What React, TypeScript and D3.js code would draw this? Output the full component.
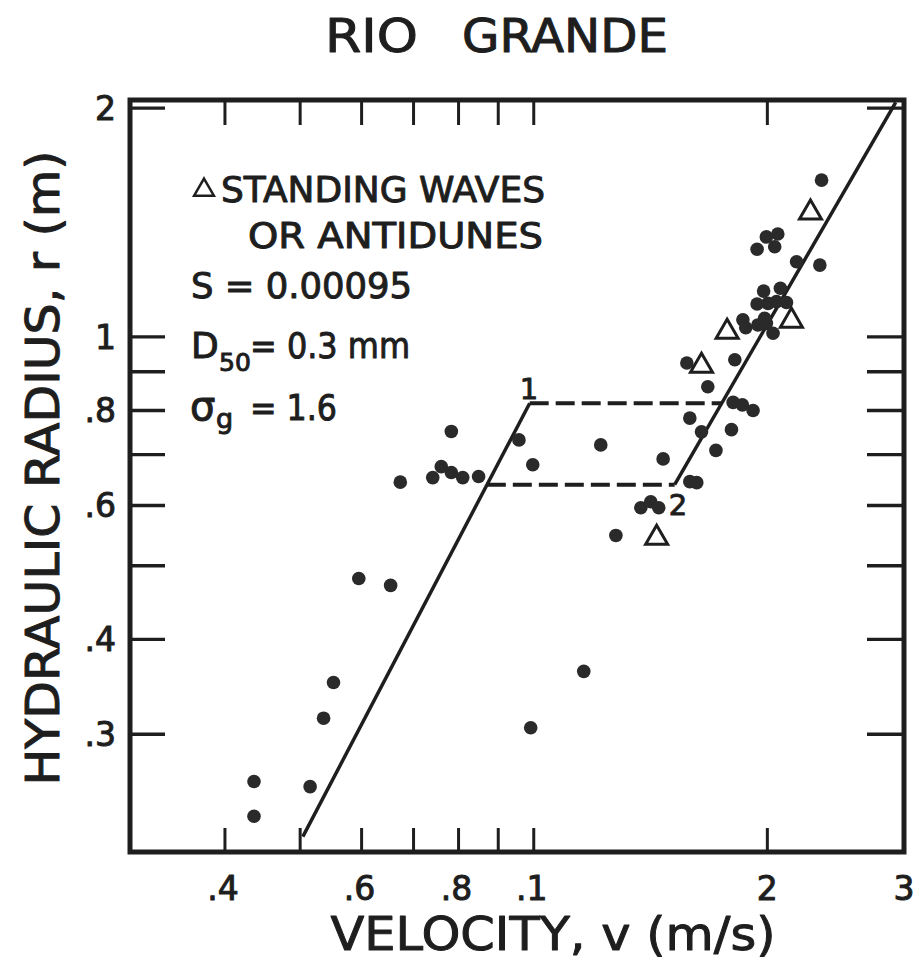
import React from 'react';
import * as d3 from 'd3';

// ---------- data ----------
const dotVelocity = [
  0.436, 0.436, 0.515, 0.536, 0.552, 0.595, 0.654, 0.673, 0.741, 0.760,
  0.783, 0.810, 0.849, 0.783, 0.957, 0.997, 0.991, 1.160, 1.220, 1.276,
  1.374, 1.415, 1.449, 1.468, 1.589, 1.622, 1.589, 1.645, 1.717, 1.798,
  1.676, 1.575, 1.816, 1.807, 1.857, 1.917, 1.860, 1.876, 1.945, 1.994,
  2.034, 1.984, 1.940, 2.004, 2.055, 2.117, 1.978, 2.079, 2.181, 2.337,
  1.994, 2.063, 2.044, 1.940, 2.349,
];
const dotRadius = [
  0.260, 0.234, 0.256, 0.315, 0.351, 0.481, 0.471, 0.644, 0.653, 0.675,
  0.663, 0.653, 0.655, 0.751, 0.732, 0.679, 0.306, 0.363, 0.721, 0.548,
  0.596, 0.607, 0.596, 0.691, 0.645, 0.643, 0.782, 0.750, 0.709, 0.755,
  0.860, 0.924, 0.933, 0.820, 0.814, 0.800, 1.053, 1.028, 1.037, 1.042,
  1.011, 1.058, 1.105, 1.107, 1.113, 1.110, 1.149, 1.159, 1.256, 1.243,
  1.354, 1.366, 1.314, 1.304, 1.608,
];
const waveVelocity = [2.273, 2.148, 1.775, 1.645, 1.440];
const waveRadius = [1.457, 1.050, 1.015, 0.916, 0.544];

const lowerRegimeV = [0.504, 0.988];
const lowerRegimeR = [0.220, 0.818];
const upperRegimeV = [1.519, 2.927];
const upperRegimeR = [0.639, 2.036];
const transitionTopV = [0.988, 1.747];
const transitionTopR = [0.818, 0.818];
const transitionBottomV = [0.870, 1.519];
const transitionBottomR = [0.639, 0.639];

const xTicks = [0.4, 0.5, 0.6, 0.7, 0.8, 0.9, 1, 2];
const xLabelValues = [0.4, 0.6, 0.8, 1, 2, 3];
const xLabelTexts = ['.4', '.6', '.8', '.1', '2', '3'];
const yTicks = [0.3, 0.4, 0.5, 0.6, 0.7, 0.8, 0.9, 1, 2];
const yLabelValues = [0.3, 0.4, 0.6, 0.8, 1, 2];
const yLabelTexts = ['.3', '.4', '.6', '.8', '1', '2'];

const titleWords = ['RIO', 'GRANDE'];

const xDomain = [0.3, 3];
const yDomain = [0.21, 2.05];

// ---------- layout ----------
const W = 915;
const H = 960;
const INK = '#1e1e1e';
const FONT = '"DejaVu Sans", "Liberation Sans", sans-serif';
const titleBoxes = [
  { x: 325, w: 93 },
  { x: 462, w: 206 },
];

export default function App() {
  const x = d3.scaleLog().domain(xDomain).range([128, 904]);
  const y = d3.scaleLog().domain(yDomain).range([852, 100]);

  const line = d3
    .line<[number, number]>()
    .x((d) => x(d[0]))
    .y((d) => y(d[1]));

  const pairs = (vs: number[], rs: number[]) =>
    vs.map((v, i) => [v, rs[i]] as [number, number]);

  const tri = d3.symbol().type(d3.symbolTriangle).size(210);
  const legendTri = d3.symbol().type(d3.symbolTriangle).size(170);

  const left = x(xDomain[0]) + 2;
  const right = x(xDomain[1]);
  const top = y(yDomain[1]);
  const bottom = y(yDomain[0]);

  const heavy = { stroke: INK, strokeWidth: 1, strokeLinejoin: 'round' as const };

  return (
    <div style={{ position: 'absolute', left: 0, top: 0 }}>
      <svg width={W} height={H} style={{ display: 'block', background: '#fff' }}>
        {/* title */}
        {titleWords.map((wd, i) => (
          <text
            key={wd}
            x={titleBoxes[i].x}
            y={52}
            fontFamily={FONT}
            fontSize={47}
            fill={INK}
            textLength={titleBoxes[i].w}
            lengthAdjust="spacingAndGlyphs"
            {...heavy}
          >
            {wd}
          </text>
        ))}

        {/* frame */}
        <rect
          x={left}
          y={top}
          width={right - left}
          height={bottom - top}
          fill="none"
          stroke={INK}
          strokeWidth={5}
        />

        {/* x ticks top and bottom */}
        {xTicks.map((t) => (
          <g key={'xt' + t}>
            <line x1={x(t)} x2={x(t)} y1={bottom} y2={bottom - 24} stroke={INK} strokeWidth={3} />
            <line x1={x(t)} x2={x(t)} y1={top} y2={top + 25} stroke={INK} strokeWidth={3} />
          </g>
        ))}
        {/* y ticks left and right */}
        {yTicks.map((t) => (
          <g key={'yt' + t}>
            <line x1={left} x2={left + 35} y1={y(t)} y2={y(t)} stroke={INK} strokeWidth={3.4} />
            <line x1={right} x2={right - 37} y1={y(t)} y2={y(t)} stroke={INK} strokeWidth={3.4} />
          </g>
        ))}

        {/* tick labels */}
        {xLabelValues.map((v, i) => (
          <text
            key={'xl' + v}
            x={x(v) + (xLabelTexts[i].startsWith('.') ? -2 : 0)}
            y={900}
            textAnchor="middle"
            fontFamily={FONT}
            fontSize={33}
            fill={INK}
            {...heavy}
          >
            {xLabelTexts[i]}
          </text>
        ))}
        {yLabelValues.map((v, i) => (
          <text
            key={'yl' + v}
            x={116}
            y={y(v)}
            dy="0.36em"
            textAnchor="end"
            fontFamily={FONT}
            fontSize={33}
            fill={INK}
            {...heavy}
          >
            {yLabelTexts[i]}
          </text>
        ))}

        {/* axis titles */}
        <text
          x={553}
          y={950}
          textAnchor="middle"
          fontFamily={FONT}
          fontSize={47}
          fill={INK}
          textLength={445}
          lengthAdjust="spacingAndGlyphs"
          {...heavy}
        >
          VELOCITY, v (m/s)
        </text>
        <text
          transform="translate(59,468) rotate(-90)"
          textAnchor="middle"
          fontFamily={FONT}
          fontSize={47}
          fill={INK}
          textLength={635}
          lengthAdjust="spacingAndGlyphs"
          {...heavy}
        >
          HYDRAULIC RADIUS, r (m)
        </text>

        {/* legend / annotations */}
        <path d={legendTri() || ''} transform="translate(204,190)" fill="none" stroke={INK} strokeWidth={2.5} />
        <g fontFamily={FONT} fill={INK} fontSize={36} {...heavy}>
          <text x={221} y={202} textLength={324} lengthAdjust="spacingAndGlyphs">
            STANDING WAVES
          </text>
          <text x={248} y={248} textLength={295} lengthAdjust="spacingAndGlyphs">
            OR ANTIDUNES
          </text>
          <text x={191} y={298} textLength={221} lengthAdjust="spacingAndGlyphs">
            S = 0.00095
          </text>
          <text x={191} y={358}>
            D
          </text>
          <text x={219} y={371} fontSize={25}>
            50
          </text>
          <text x={250} y={358} textLength={160} lengthAdjust="spacingAndGlyphs">
            = 0.3 mm
          </text>
          <text x={190} y={420} fontSize={40}>
            σ
          </text>
          <text x={216} y={428} fontSize={27}>
            g
          </text>
          <text x={250} y={420} textLength={87} lengthAdjust="spacingAndGlyphs">
            = 1.6
          </text>
        </g>

        {/* regime lines */}
        <path d={line(pairs(lowerRegimeV, lowerRegimeR)) || ''} fill="none" stroke={INK} strokeWidth={3.5} />
        <path d={line(pairs(upperRegimeV, upperRegimeR)) || ''} fill="none" stroke={INK} strokeWidth={3.5} />
        <path
          d={line(pairs(transitionTopV, transitionTopR)) || ''}
          fill="none"
          stroke={INK}
          strokeWidth={4}
          strokeDasharray="19 7"
        />
        <path
          d={line(pairs(transitionBottomV, transitionBottomR)) || ''}
          fill="none"
          stroke={INK}
          strokeWidth={4}
          strokeDasharray="19 7"
        />
        <text
          x={x(transitionTopV[0]) - 10}
          y={y(transitionTopR[0]) - 4}
          fontFamily={FONT}
          fontSize={29}
          fill={INK}
          {...heavy}
        >
          1
        </text>
        <text
          x={x(transitionBottomV[1]) - 6}
          y={y(transitionBottomR[1]) + 30}
          fontFamily={FONT}
          fontSize={29}
          fill={INK}
          {...heavy}
        >
          2
        </text>

        {/* data */}
        {dotVelocity.map((v, i) => (
          <circle key={'d' + i} cx={x(v)} cy={y(dotRadius[i])} r={6.8} fill="#2a2a2a" />
        ))}
        {waveVelocity.map((v, i) => (
          <path
            key={'w' + i}
            d={tri() || ''}
            transform={`translate(${x(v)},${y(waveRadius[i])})`}
            fill="#fff"
            stroke={INK}
            strokeWidth={3}
          />
        ))}
      </svg>
    </div>
  );
}
